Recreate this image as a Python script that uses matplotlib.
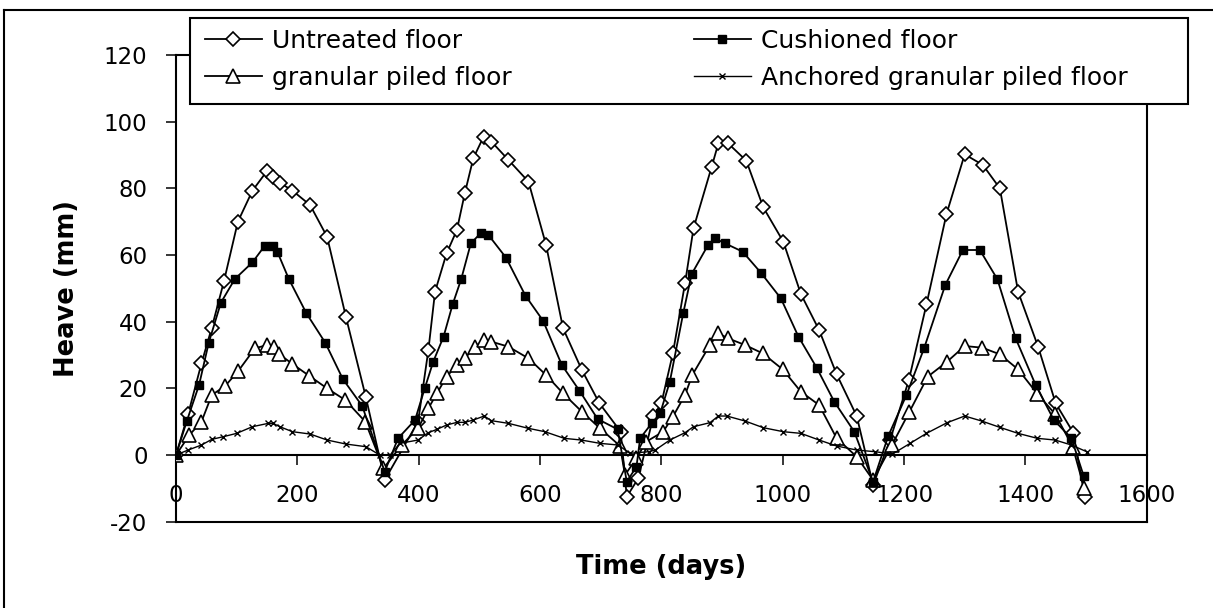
#!/usr/bin/env python3

import matplotlib
matplotlib.use("Agg")
import matplotlib.pyplot as plt
from matplotlib.patches import Rectangle
from matplotlib.lines import Line2D

W, H = 1213, 608

# heave readings (mm) against time (days)
untreated_t = [0, 20, 42, 59, 79, 102, 126, 150, 160, 171, 192, 221, 249, 280, 313, 344,
               399, 416, 427, 446, 463, 476, 490, 507, 520, 548, 581, 610, 638, 669, 698, 733, 743, 762,
               787, 800, 819, 839, 853, 883, 894, 910, 940, 968, 1001, 1030, 1060, 1089, 1122, 1149,
               1177, 1208, 1237, 1270, 1300, 1330, 1358, 1388, 1421, 1450, 1479, 1498]
untreated_h = [0, 12.3, 27.5, 38.2, 52.1, 70.0, 79.3, 85.2, 83.3, 81.7, 79.3, 75.0, 65.5, 41.5, 17.3, -7.5,
               10, 31.5, 49, 60.5, 67.5, 78.5, 89, 95.5, 94, 88.5, 82, 63, 38, 25.5, 15.5, 7, -12.5, -7,
               11.7, 15.5, 30.5, 51.5, 68, 86.5, 93.5, 93.5, 88.3, 74.3, 64, 48.3, 37.5, 24.2, 11.7, -9,
               4.5, 22.5, 45.2, 72.3, 90.2, 87, 80, 49, 32.5, 15.5, 6.7, -12.5]

cushioned_t = [0, 18, 38, 54, 74, 97, 126, 146, 160, 167, 186, 215, 246, 275, 307, 344,
               366, 394, 410, 424, 441, 456, 470, 486, 503, 515, 544, 576, 605, 636, 665, 695, 728, 743, 759,
               765, 784, 798, 814, 836, 850, 877, 888, 905, 934, 964, 997, 1026, 1056, 1085, 1118, 1149,
               1174, 1204, 1233, 1268, 1297, 1325, 1354, 1384, 1417, 1447, 1476, 1496]
cushioned_h = [0, 10.3, 21, 33.7, 45.7, 52.8, 57.8, 62.7, 62.7, 61, 52.8, 42.5, 33.7, 22.8, 14.7, -5,
               5, 10.5, 20, 28, 35.5, 45.2, 52.7, 63.5, 66.7, 66, 59.2, 47.8, 40.3, 27, 19.3, 10.8, 7.7, -8, -3.5,
               5, 9.5, 12.5, 22, 42.5, 54.3, 63, 65, 63.5, 61, 54.7, 47, 35.5, 26.2, 16, 7, -8,
               5.7, 18, 32, 51, 61.5, 61.5, 52.7, 35, 21, 10.5, 5, -6.2]

granular_t = [0, 22, 42, 59, 81, 103, 130, 150, 162, 170, 192, 220, 249, 279, 312, 342,
              372, 399, 416, 430, 446, 463, 476, 493, 507, 520, 548, 581, 610, 638, 669, 699, 732, 740, 759,
              775, 803, 819, 839, 851, 880, 894, 910, 938, 967, 1000, 1030, 1060, 1089, 1122, 1149,
              1180, 1209, 1239, 1271, 1300, 1329, 1358, 1388, 1420, 1449, 1478, 1497]
granular_h = [0, 6, 10, 18, 20.7, 25.3, 32, 33, 32.3, 30.3, 27.3, 23.7, 20, 16.5, 10, -4,
              3, 8, 14, 18.5, 23.5, 27, 29, 32.5, 34.5, 34, 32.5, 29, 24, 18.5, 13, 8, 2.7, -6, -1,
              4, 7, 11.5, 18, 24, 33, 36.5, 35, 33, 30.5, 25.7, 19, 15, 5, -0.5, -7.5,
              3, 13, 23.5, 28, 32.7, 32.2, 30.2, 25.7, 18.3, 12.3, 2.5, -10]

anchored_t = [0, 20, 42, 59, 78, 100, 126, 152, 160, 171, 192, 221, 249, 280, 313, 336, 353,
              369, 399, 416, 430, 446, 463, 476, 490, 508, 520, 548, 581, 608, 640, 668, 699, 729, 748,
              779, 790, 814, 839, 853, 880, 894, 908, 938, 968, 1001, 1030, 1060, 1089, 1122, 1152, 1181,
              1210, 1237, 1271, 1300, 1328, 1358, 1388, 1420, 1449, 1476, 1501]
anchored_h = [0, 1.5, 3, 4.7, 5.5, 6.5, 8.5, 9.5, 9.5, 8.5, 7, 6.3, 4.5, 3.3, 2.5, 0, 0,
              3.5, 4.5, 6.7, 7.7, 9, 9.8, 9.8, 10.5, 11.7, 10.3, 9.5, 8, 7, 5, 4.5, 3.5, 3, 0.5,
              1, 1.5, 4.5, 6.7, 8.5, 9.7, 11.7, 11.7, 10.2, 8.2, 7, 6.5, 4.5, 2.7, 1.5, 1, 0.3,
              3.5, 6.5, 9.7, 11.7, 10.2, 8.3, 6.5, 5, 4.5, 3, 1]

x_ticks = list(range(0, 1601, 200))
y_ticks = list(range(-20, 121, 20))

plt.rcParams['font.family'] = ['DejaVu Sans']
plt.rcParams['axes.unicode_minus'] = False

fig = plt.figure(figsize=(W / 100, H / 100), dpi=100)
ax = fig.add_axes([176 / W, 1 - 521.7 / H, (1146.7 - 176) / W, (521.7 - 55) / H])

lw = 1.3
l1, = ax.plot(untreated_t, untreated_h, color='k', lw=lw, marker='D', ms=6.8,
              mfc='white', mec='k', mew=1.2, label='Untreated floor', zorder=3)
l2, = ax.plot(cushioned_t, cushioned_h, color='k', lw=lw, marker='s', ms=6,
              mfc='k', mec='k', label='Cushioned floor', zorder=4)
l3, = ax.plot(granular_t, granular_h, color='k', lw=lw, marker='^', ms=9.5,
              mfc='white', mec='k', mew=1.2, label='granular piled floor', zorder=3)
l4, = ax.plot(anchored_t, anchored_h, color='k', lw=1.0, marker='x', ms=4.5,
              mew=1.0, label='Anchored granular piled floor', zorder=3)

ax.set_xlim(0, 1600)
ax.set_ylim(-20, 120)
ax.set_xticks(x_ticks)
ax.set_yticks(y_ticks)

# x axis crosses at zero, plot-area frame stays at -20
ax.spines['bottom'].set_position(('data', 0))
for s in ax.spines.values():
    s.set_linewidth(1.5)
ax.plot([0, 1], [0, 0], transform=ax.transAxes, color='k', lw=1.5, clip_on=False)

ax.tick_params(axis='y', direction='out', length=7, width=1.1, pad=13.5, labelsize=16.5)
ax.tick_params(axis='x', direction='out', length=7, width=1.1, pad=14, labelsize=16.5)

ax.set_ylabel('Heave (mm)', fontsize=18.5, fontweight='bold', va='center')
ax.yaxis.set_label_coords((67 - 176) / 970.7, 0.5)
ax.set_xlabel('Time (days)', fontsize=18.5, fontweight='bold', va='center')
ax.xaxis.set_label_coords(0.5, -(567 - 521.7) / 466.7)

# legend box drawn over the top of the plot area
fig.add_artist(Rectangle((190 / W, 1 - 104 / H), (1188 - 190) / W, (104 - 18) / H,
                         transform=fig.transFigure, fc='white', ec='k', lw=1.5, zorder=2))
leg_kw = dict(frameon=False, fontsize=18, handlelength=2.3, handletextpad=0.4,
              borderpad=0.42, labelspacing=0.52, borderaxespad=0, loc='upper left')
fig.legend([l1, l3], ['Untreated floor', 'granular piled floor'],
           bbox_to_anchor=(194 / W, 1 - 18 / H), **leg_kw)
fig.legend([l2, l4], ['Cushioned floor', 'Anchored granular piled floor'],
           bbox_to_anchor=(683 / W, 1 - 18 / H), **leg_kw)

# outer border (top and left)
fig.add_artist(Line2D([4 / W, 1], [1 - 9.5 / H, 1 - 9.5 / H], color='k', lw=1.5))
fig.add_artist(Line2D([4 / W, 4 / W], [0, 1 - 9.5 / H], color='k', lw=1.5))

fig.savefig('out.png', dpi=100)
